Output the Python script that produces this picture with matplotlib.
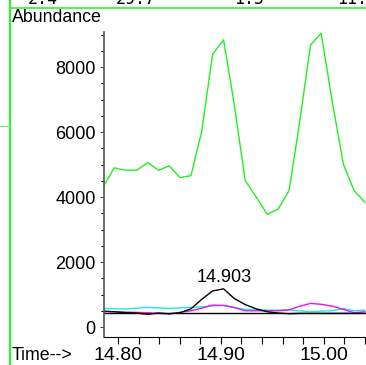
import matplotlib
matplotlib.use("Agg")
import matplotlib.pyplot as plt
from matplotlib.lines import Line2D
from matplotlib.ticker import MultipleLocator

plt.rcParams["font.family"] = ["Liberation Sans", "DejaVu Sans"]

# retention times (min) shared by all traces
times = [14.7857, 14.7964, 14.8075, 14.8182, 14.8288, 14.8395, 14.8498, 14.8602,
         14.8709, 14.8813, 14.8919, 14.9026, 14.9129, 14.9236, 14.9343, 14.9450,
         14.9556, 14.9663, 14.9767, 14.9871, 14.9974, 15.0081, 15.0191, 15.0294,
         15.0398]

green = [4330, 4900, 4825, 4825, 5060, 4825, 4960, 4600, 4660, 6010, 8390, 8840,
         6860, 4510, 4000, 3470, 3630, 4200, 6350, 8680, 9040, 6960, 5000, 4200,
         3840]
black = [490, 470, 440, 430, 390, 430, 410, 440, 560, 850, 1110, 1175, 880, 690,
         560, 470, 430, 410, 420, 420, 420, 420, 420, 420, 420]
cyan = [573, 560, 552, 580, 604, 590, 573, 590, 604, 620, 650, 665, 600, 543, 530,
        521, 521, 521, 500, 470, 490, 500, 573, 500, 521]
magenta = [470, 470, 460, 450, 440, 420, 400, 450, 500, 580, 675, 665, 600, 500,
           500, 500, 500, 530, 640, 727, 700, 644, 543, 440, 470]
baseline = 420
peak_rt = 14.903
peak_val = 1175

top_row = [(0.075, "2.4"), (0.315, "29.7"), (0.64, "1.5"), (0.92, "11.1")]

fig = plt.figure(figsize=(3.66, 3.65), dpi=100)
ax = fig.add_axes([104 / 366, 1 - 337 / 365, 1 - 104 / 366, 305 / 365])

ax.plot(times, green, color="#22ee22", linewidth=1.0)
ax.axhline(baseline, color="black", linewidth=1.0)
ax.plot(times, cyan, color="#11eeee", linewidth=1.0)
ax.plot(times, magenta, color="#ee11ee", linewidth=1.0)
ax.plot(times, black, color="black", linewidth=1.0)
ax.annotate(f"{peak_rt:.3f}", (peak_rt, peak_val), xytext=(0, 2),
            textcoords="offset points", ha="center", va="bottom", fontsize=13)

ax.set_xlim(14.7864, 15.041)
ax.set_ylim(-307, 9080)
ax.xaxis.set_major_locator(MultipleLocator(0.1))
ax.xaxis.set_minor_locator(MultipleLocator(0.02))
ax.yaxis.set_major_locator(MultipleLocator(2000))
ax.yaxis.set_minor_locator(MultipleLocator(500))
ax.xaxis.set_major_formatter(lambda v, p: f"{v:.2f}")
ax.tick_params(axis="x", which="major", labelsize=14, length=5, width=0.8, pad=2)
ax.tick_params(axis="x", which="minor", length=5, width=0.8)
ax.tick_params(axis="y", which="major", labelsize=13, length=3, width=0.8, pad=3)
ax.tick_params(axis="y", which="minor", length=2, width=0.8)
ax.tick_params(axis="y", colors="#444444", labelcolor="black")
for s in ("top", "right"):
    ax.spines[s].set_visible(False)
ax.spines["left"].set_color("#555555")
ax.spines["left"].set_linewidth(1.2)

fig.text(12 / 366, 1 - 18 / 365, "Abundance", fontsize=12.8, va="center", ha="left")
fig.text(12 / 366, 1 - 356 / 365, "Time-->", fontsize=12.8, va="center", ha="left")

# green frame of the surrounding window
fig.add_artist(Line2D([10 / 366, 10 / 366], [0, 1], color="#33ee33", linewidth=1.6,
                      transform=fig.transFigure))
fig.add_artist(Line2D([10 / 366, 1], [1 - 8 / 365, 1 - 8 / 365], color="#33ee33",
                      linewidth=1.2, transform=fig.transFigure))
fig.add_artist(Line2D([0, 10 / 366], [1 - 126 / 365, 1 - 126 / 365], color="#77ee77",
                      linewidth=1.0, transform=fig.transFigure))
for xp, txt in top_row:
    fig.text(xp, 1 - 4 / 365, txt, fontsize=12, family="DejaVu Sans Mono",
             va="baseline", ha="left")

fig.savefig("out.png", dpi=100)
